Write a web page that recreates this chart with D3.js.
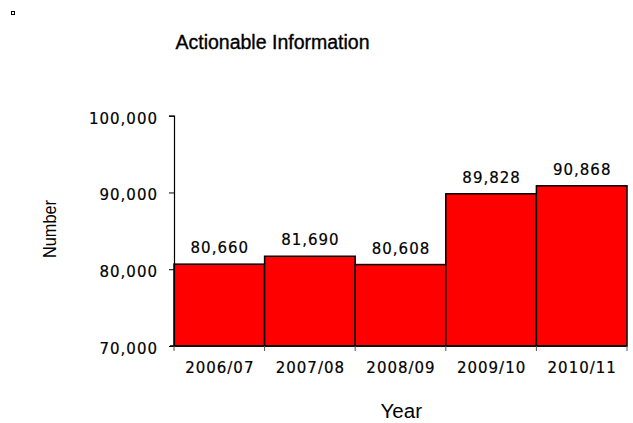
<!DOCTYPE html>
<html>
<head>
<meta charset="utf-8">
<script src="https://cdn.jsdelivr.net/npm/d3@7"></script>
<style>
  html, body { margin: 0; padding: 0; background: #fff; }
  svg { display: block; }
  text { fill: #000; }
  .num { stroke: #000; stroke-width: 0.2px; }
</style>
</head>
<body>
<script>
// Yearly totals of actionable information
const years = ["2006/07", "2007/08", "2008/09", "2009/10", "2010/11"];
const counts = [80660, 81690, 80608, 89828, 90868];
const yTicks = [70000, 80000, 90000, 100000];

const W = 633, H = 423;
const m = { left: 174, right: 6, top: 115.7, bottom: 77 };
const numFont = "'DejaVu Sans', Verdana, sans-serif";
const labelFont = "'Liberation Sans', Arial, sans-serif";

const svg = d3.select("body").append("svg").attr("width", W).attr("height", H);

const x = d3.scaleBand().domain(years).range([m.left, W - m.right]).paddingInner(0).paddingOuter(0);
const y = d3.scaleLinear().domain([70000, 100000]).range([H - m.bottom, m.top]);
const fmt = d3.format(",");

// small marker in the corner
svg.append("rect").attr("x", 11.5).attr("y", 11.5).attr("width", 3).attr("height", 3)
  .attr("fill", "#fff").attr("stroke", "#000").attr("stroke-width", 1);

// title
svg.append("text").attr("x", 272.5).attr("y", 49).attr("text-anchor", "middle")
  .attr("font-family", labelFont).attr("font-size", 19.5)
  .style("stroke", "#000").style("stroke-width", 0.35)
  .text("Actionable Information");

// bars
svg.append("g").selectAll("rect").data(years).join("rect")
  .attr("x", d => x(d))
  .attr("y", (d, i) => y(counts[i]))
  .attr("width", x.bandwidth())
  .attr("height", (d, i) => y(70000) - y(counts[i]))
  .attr("fill", "#ff0000")
  .attr("stroke", "#000").attr("stroke-width", 1.5);

// value labels
svg.append("g").selectAll("text").data(years).join("text")
  .attr("class", "num")
  .attr("x", d => x(d) + x.bandwidth() / 2 + 0.5)
  .attr("y", (d, i) => y(counts[i]) - 11)
  .attr("text-anchor", "middle")
  .attr("font-family", numFont).attr("font-size", 15).style("letter-spacing", "1px")
  .text((d, i) => fmt(counts[i]));

// y axis
const yAxis = svg.append("g").attr("transform", `translate(${m.left},0)`)
  .call(d3.axisLeft(y).tickValues(yTicks).tickFormat(fmt).tickSize(5).tickPadding(11));
yAxis.select(".domain").attr("stroke", "#000").attr("stroke-width", 1.2);
yAxis.selectAll(".tick line").attr("stroke", "#000");
yAxis.selectAll(".tick text").attr("class", "num").attr("font-size", 15).style("letter-spacing", "1px")
  .attr("font-family", numFont).attr("fill", "#000").attr("dy", "0.5em");

// x axis
const xAxis = svg.append("g").attr("transform", `translate(0,${H - m.bottom})`)
  .call(d3.axisBottom(x).tickSize(0).tickPadding(16.5));
xAxis.select(".domain").remove();
xAxis.selectAll(".tick text").attr("class", "num").attr("font-size", 15).style("letter-spacing", "1px")
  .attr("font-family", numFont).attr("fill", "#000").attr("dx", "0.5px");
svg.append("line").attr("x1", m.left - 4).attr("x2", W - m.right)
  .attr("y1", H - m.bottom).attr("y2", H - m.bottom).attr("stroke", "#000").attr("stroke-width", 1.5);
// category boundary ticks
svg.append("g").selectAll("line").data(years.concat(["end"])).join("line")
  .attr("x1", (d, i) => i < years.length ? x(d) : W - m.right)
  .attr("x2", (d, i) => i < years.length ? x(d) : W - m.right)
  .attr("y1", H - m.bottom).attr("y2", H - m.bottom + 5)
  .attr("stroke", "#555");

// axis titles
svg.append("text").attr("x", 401.3).attr("y", 418.3).attr("text-anchor", "middle")
  .attr("font-family", labelFont).attr("font-size", 20.5).text("Year");
svg.append("text").attr("transform", "translate(56,229) rotate(-90)")
  .attr("text-anchor", "middle")
  .attr("font-family", labelFont).attr("font-size", 18)
  .attr("textLength", 58).attr("lengthAdjust", "spacingAndGlyphs")
  .text("Number");
</script>
</body>
</html>
